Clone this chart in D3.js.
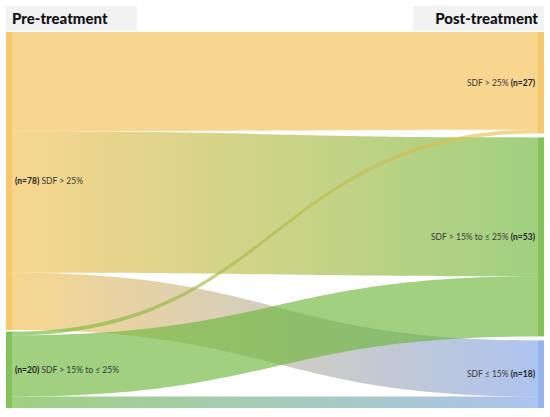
<!DOCTYPE html>
<html>
<head>
<meta charset="utf-8">
<script src="https://cdn.jsdelivr.net/npm/d3@7"></script>
<style>
  body { margin: 0; background: #fff; }
  svg { display: block; font-family: Lato, "Open Sans", sans-serif; }
</style>
</head>
<body>
<svg id="chart"></svg>
<script>
// stages and groups
const stages = ["Pre-treatment", "Post-treatment"];
const preGroups = ["SDF > 25%", "SDF > 15% to ≤ 25%"];
const preCounts = [78, 20];
const postGroups = ["SDF > 25%", "SDF > 15% to ≤ 25%", "SDF ≤ 15%"];
const postCounts = [27, 53, 18];
// flows[pre][post]
const flows = [
  [26, 37, 15],
  [1, 16, 3]
];
const groupColors = ["#f4c053", "#6db73c", "#81a4e8"];

const W = 550, H = 417;
const svg = d3.select("#chart").attr("width", W).attr("height", H);

const plotTop = 32, plotBottom = 408, nodeW = 6;
const x = d3.scalePoint().domain(stages).range([6, W - 12]);

const color = d3.scaleOrdinal().domain(postGroups).range(groupColors);

function layoutColumn(names, counts, gap) {
  const y = d3.scaleLinear()
    .domain([0, d3.sum(counts)])
    .range([0, plotBottom - plotTop - gap * (counts.length - 1)]);
  let pos = plotTop;
  return names.map((name, i) => {
    const n = { name: name, value: counts[i], y0: pos, y1: pos + y(counts[i]), scale: y };
    pos = n.y1 + gap;
    return n;
  });
}

const left = layoutColumn(preGroups, preCounts, 1.5);
const right = layoutColumn(postGroups, postCounts, 4);

// link bands
const links = [];
const leftOff = left.map(n => n.y0);
const rightOff = right.map(n => n.y0);
flows.forEach((row, i) => {
  row.forEach((v, j) => {
    links.push({ i: i, j: j, value: v });
  });
});
// source side: ordered by target
links.forEach(l => {
  l.s0 = leftOff[l.i];
  l.s1 = l.s0 + left[l.i].scale(l.value);
  leftOff[l.i] = l.s1;
});
// target side: ordered by source
right.forEach((n, j) => {
  links.filter(l => l.j === j).forEach(l => {
    l.t0 = rightOff[j];
    l.t1 = l.t0 + right[j].scale(l.value);
    rightOff[j] = l.t1;
  });
});

const x0 = x(stages[0]) + nodeW, x1 = x(stages[1]);
const xm = (x0 + x1) / 2;

const defs = svg.append("defs");
links.forEach((l, k) => {
  const g = defs.append("linearGradient")
    .attr("id", "grad" + k)
    .attr("gradientUnits", "userSpaceOnUse")
    .attr("x1", x0).attr("x2", x1).attr("y1", 0).attr("y2", 0);
  g.append("stop").attr("offset", "0%").attr("stop-color", color(preGroups[l.i]));
  g.append("stop").attr("offset", "100%").attr("stop-color", color(postGroups[l.j]));
});

svg.append("g")
  .selectAll("path")
  .data(links)
  .enter().append("path")
  .attr("d", l => `M${x0},${l.s0}C${xm},${l.s0} ${xm},${l.t0} ${x1},${l.t0}` +
    `L${x1},${l.t1}C${xm},${l.t1} ${xm},${l.s1} ${x0},${l.s1}Z`)
  .attr("fill", (l, k) => `url(#grad${k})`)
  .attr("fill-opacity", 0.65);

// node bars
svg.append("g").selectAll("rect")
  .data(left).enter().append("rect")
  .attr("x", x(stages[0])).attr("width", nodeW)
  .attr("y", d => d.y0).attr("height", d => d.y1 - d.y0)
  .attr("fill", d => color(d.name)).attr("fill-opacity", 0.85);

svg.append("g").selectAll("rect")
  .data(right).enter().append("rect")
  .attr("x", x(stages[1])).attr("width", nodeW)
  .attr("y", d => d.y0).attr("height", d => d.y1 - d.y0)
  .attr("fill", d => color(d.name)).attr("fill-opacity", 0.85);

// node labels
const lt = svg.append("g").attr("font-size", 8.5).attr("fill", "#3a3a3a")
  .selectAll("text").data(left).enter().append("text")
  .attr("x", x(stages[0]) + nodeW + 3)
  .attr("y", d => (d.y0 + d.y1) / 2)
  .attr("dy", "0.35em");
lt.append("tspan").attr("font-weight", "bold").attr("fill", "#222").text(d => `(n=${d.value})`);
lt.append("tspan").text(d => " " + d.name);

const rt = svg.append("g").attr("font-size", 8.5).attr("fill", "#3a3a3a")
  .selectAll("text").data(right).enter().append("text")
  .attr("x", x(stages[1]) - 3)
  .attr("y", d => (d.y0 + d.y1) / 2)
  .attr("dy", "0.35em")
  .attr("text-anchor", "end");
rt.append("tspan").text(d => d.name + " ");
rt.append("tspan").attr("font-weight", "bold").attr("fill", "#222").text(d => `(n=${d.value})`);

// stage headers
const headers = [
  { name: stages[0], bx: 6, tx: 12, anchor: "start" },
  { name: stages[1], bx: 413, tx: 538, anchor: "end" }
];
svg.append("g").selectAll("rect").data(headers).enter().append("rect")
  .attr("x", d => d.bx).attr("y", 6).attr("width", 131).attr("height", 25)
  .attr("fill", "#f2f2f2");
svg.append("g").selectAll("text").data(headers).enter().append("text")
  .attr("x", d => d.tx).attr("y", 24)
  .attr("text-anchor", d => d.anchor)
  .attr("font-size", 15).attr("font-weight", 900).attr("fill", "#111")
  .text(d => d.name);
</script>
</body>
</html>
